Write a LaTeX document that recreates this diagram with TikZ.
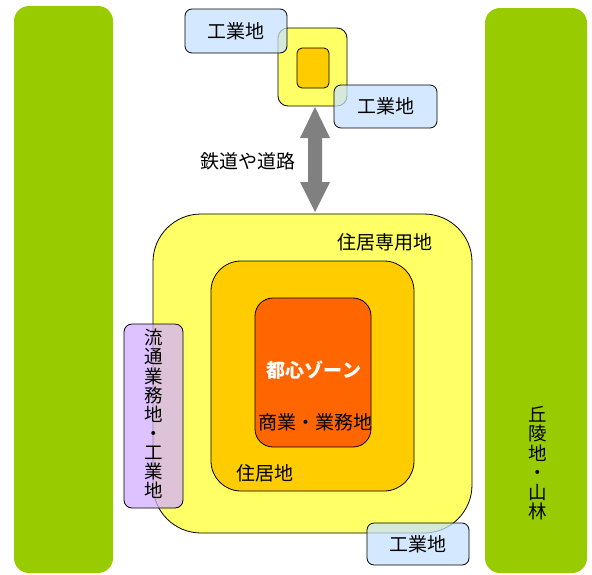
\documentclass[tikz,border=0pt]{standalone}
\usepackage{fontspec}
\setmainfont{Noto Sans CJK JP}
\definecolor{leafgreen}{HTML}{99CC00}
\definecolor{lyellow}{HTML}{FFFF66}
\definecolor{lorange}{HTML}{FFCC00}
\definecolor{dorange}{HTML}{FF6600}
\definecolor{lblue}{HTML}{C6E2FF}
\definecolor{lpurple}{HTML}{D3AEFF}
\definecolor{arrowgray}{HTML}{808080}
\tikzset{
  zone/.style={draw=black, line width=0.8pt, inner sep=0pt, rounded corners=#1},
  greenbar/.style={fill=leafgreen, draw=none, inner sep=0pt, rounded corners=15pt},
  bluebox/.style={zone=7pt, fill=lblue, fill opacity=0.75, text opacity=1, font=\fontsize{19pt}{21pt}\selectfont},
  lbl/.style={font=\fontsize{19pt}{21pt}\selectfont, inner sep=0pt},
  vlbl/.style={font=\fontsize{18.5pt}{19.5pt}\selectfont, inner sep=0pt, align=center}
}
\begin{document}
\begin{tikzpicture}[x=1pt,y=-1pt]
\useasboundingbox (0,0) rectangle (592,574);
% green bars
\node[greenbar, minimum width=99pt, minimum height=567pt] (leftbar) at (63.5,289.5) {};
\node[greenbar, minimum width=102pt, minimum height=565pt] (rightbar) at (536,290.5) {};
\node[vlbl] (hill) at (538,463) {丘\\陵\\地\\・\\山\\林};
% city zones
\node[zone=48pt, fill=lyellow, minimum width=319pt, minimum height=319pt] (resonly) at (312.5,373.5) {};
\node[zone=30pt, fill=lorange, minimum width=203pt, minimum height=230pt] (res) at (312.5,376) {};
\node[zone=18pt, fill=dorange, minimum width=116pt, minimum height=149pt] (core) at (313,372.5) {};
\node[lbl] (resonlytxt) at (385,242) {住居専用地};
\node[lbl, text=white, font=\fontsize{19pt}{21pt}\selectfont\bfseries] (coretxt) at (314,370) {都心ゾーン};
\node[lbl] (comtxt) at (315,422) {商業・業務地};
\node[lbl] (restxt) at (265,473) {住居地};
% distribution / industrial
\node[zone=8pt, fill=lpurple, fill opacity=0.75, minimum width=59pt, minimum height=184pt] (dist) at (153.5,416) {};
\node[vlbl, font=\fontsize{18.5pt}{19.1pt}\selectfont] (disttxt) at (153.5,414) {流\\通\\業\\務\\地\\・\\工\\業\\地};
\node[bluebox, minimum width=102pt, minimum height=42pt] (indB) at (418,544) {工業地};
% satellite town
\node[zone=10pt, fill=lyellow, minimum width=69pt, minimum height=78pt] (sat) at (312.5,67) {};
\node[zone=5pt, fill=lorange, minimum width=32pt, minimum height=40pt] (satcore) at (313,68) {};
\node[bluebox, minimum width=102pt, minimum height=44pt] (indTL) at (236,31) {工業地};
\node[bluebox, minimum width=103pt, minimum height=43pt] (indTR) at (385.5,106.5) {工業地};
% double arrow
\coordinate (atop) at (315,107);
\coordinate (abot) at (315,212);
\fill[arrowgray] (atop) -- (330,138) -- (322,138) -- (322,182) -- (330,182) -- (abot)
  -- (300,182) -- (308,182) -- (308,138) -- (300,138) -- cycle;
\node[lbl] (rail) at (248,161) {鉄道や道路};
\end{tikzpicture}
\end{document}
